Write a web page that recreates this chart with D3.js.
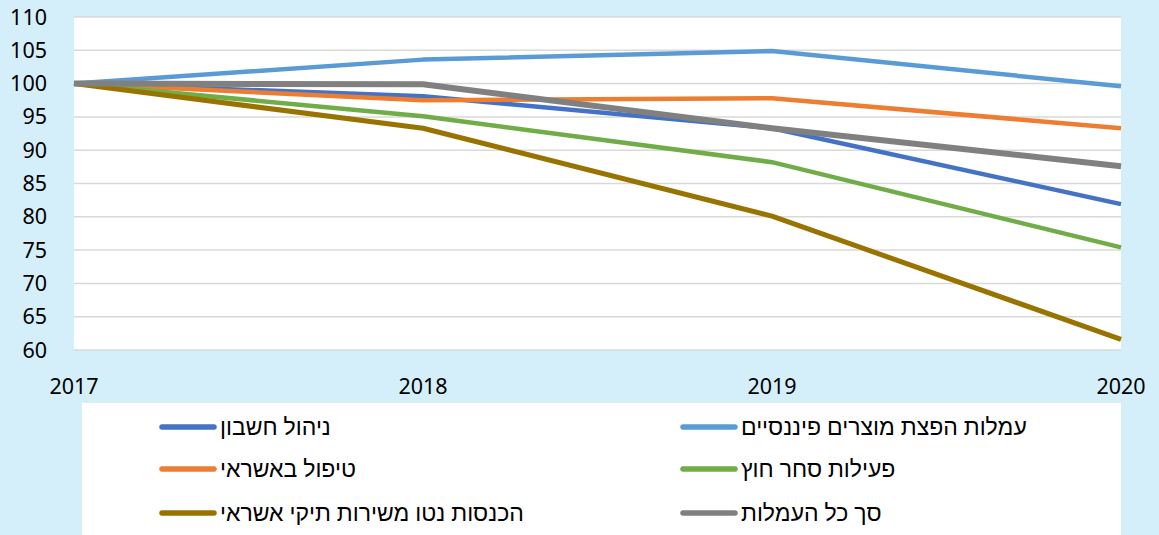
<!DOCTYPE html>
<html>
<head>
<meta charset="utf-8">
<script src="https://cdn.jsdelivr.net/npm/d3@7"></script>
<style>
  html, body { margin: 0; padding: 0; background: #d4eefa; }
  svg { display: block; }
</style>
</head>
<body>
<div id="chart"></div>
<script>
const years = [2017, 2018, 2019, 2020]
const yTicks = [60, 65, 70, 75, 80, 85, 90, 95, 100, 105, 110]

// index values, 2017 = 100
const distribution = [100, 103.6, 104.9, 99.6]
const accountMgmt = [100, 98.1, 93.3, 81.9]
const creditHandling = [100, 97.5, 97.8, 93.3]
const foreignTrade = [100, 95.1, 88.2, 75.4]
const creditPortfolio = [100, 93.3, 80.1, 61.6]
const totalFees = [100, 99.9, 93.3, 87.6]

const series = [
  { name: 'עמלות הפצת מוצרים פיננסיים', values: distribution, color: '#5b9bd5', w: 4.5 },
  { name: 'ניהול חשבון', values: accountMgmt, color: '#4472c4', w: 4.5 },
  { name: 'טיפול באשראי', values: creditHandling, color: '#ed7d31', w: 4.5 },
  { name: 'פעילות סחר חוץ', values: foreignTrade, color: '#70ad47', w: 4.5 },
  { name: 'הכנסות נטו משירות תיקי אשראי', values: creditPortfolio, color: '#997300', w: 5 },
  { name: 'סך כל העמלות', values: totalFees, color: '#808080', w: 6 }
]

// legend slots: [column, row]
const legendSlots = {
  'עמלות הפצת מוצרים פיננסיים': [1, 0],
  'ניהול חשבון': [0, 0],
  'פעילות סחר חוץ': [1, 1],
  'טיפול באשראי': [0, 1],
  'סך כל העמלות': [1, 2],
  'הכנסות נטו משירות תיקי אשראי': [0, 2]
}

const width = 1159
const height = 535
const font = '"Noto Sans", "Liberation Sans", "DejaVu Sans", sans-serif'

const svg = d3.select('#chart')
  .append('svg')
  .attr('width', width)
  .attr('height', height)
  .style('font-family', font)

svg.append('rect')
  .attr('width', width)
  .attr('height', height)
  .attr('fill', '#d4eefa')

const plot = { left: 74, right: 1121, top: 17, bottom: 350 }

const x = d3.scaleLinear().domain([2017, 2020]).range([plot.left, plot.right])
const y = d3.scaleLinear().domain([60, 110]).range([plot.bottom, plot.top])

svg.append('rect')
  .attr('x', plot.left)
  .attr('y', plot.top)
  .attr('width', plot.right - plot.left)
  .attr('height', plot.bottom - plot.top)
  .attr('fill', '#ffffff')

// gridlines
svg.append('g')
  .selectAll('line')
  .data(yTicks)
  .join('line')
  .attr('x1', plot.left)
  .attr('x2', plot.right)
  .attr('y1', d => y(d))
  .attr('y2', d => y(d))
  .attr('stroke', '#d9d9d9')
  .attr('stroke-width', 1.5)

// y labels
svg.append('g')
  .selectAll('text')
  .data(yTicks)
  .join('text')
  .attr('x', 47)
  .attr('y', d => y(d))
  .attr('dy', '0.35em')
  .attr('text-anchor', 'end')
  .attr('font-size', 21.5)
  .attr('fill', '#000')
  .text(d => d)

// x labels
svg.append('g')
  .selectAll('text')
  .data(years)
  .join('text')
  .attr('x', d => x(d))
  .attr('y', 386)
  .attr('dy', '0.35em')
  .attr('text-anchor', 'middle')
  .attr('font-size', 21.5)
  .attr('fill', '#000')
  .text(d => d)

const line = d3.line()
  .x((d, i) => x(years[i]))
  .y(d => y(d))

svg.append('g')
  .selectAll('path')
  .data(series)
  .join('path')
  .attr('d', d => line(d.values))
  .attr('fill', 'none')
  .attr('stroke', d => d.color)
  .attr('stroke-width', d => d.w)
  .attr('stroke-linejoin', 'round')

// legend
svg.append('rect')
  .attr('x', 82)
  .attr('y', 403)
  .attr('width', 1039)
  .attr('height', 132)
  .attr('fill', '#ffffff')

const colX = [162, 683]
const rowY = [427, 469, 513]

const legend = svg.append('g')
  .selectAll('g')
  .data(series)
  .join('g')
  .attr('transform', d => {
    const [c, r] = legendSlots[d.name]
    return `translate(${colX[c]},${rowY[r]})`
  })

legend.append('line')
  .attr('x1', 0)
  .attr('x2', 52)
  .attr('stroke', d => d.color)
  .attr('stroke-width', 5.5)
  .attr('stroke-linecap', 'round')

legend.append('text')
  .attr('x', 58)
  .attr('dy', '0.35em')
  .attr('text-anchor', 'start')
  .attr('font-size', 23)
  .attr('fill', '#000')
  .text(d => d.name)
</script>
</body>
</html>
